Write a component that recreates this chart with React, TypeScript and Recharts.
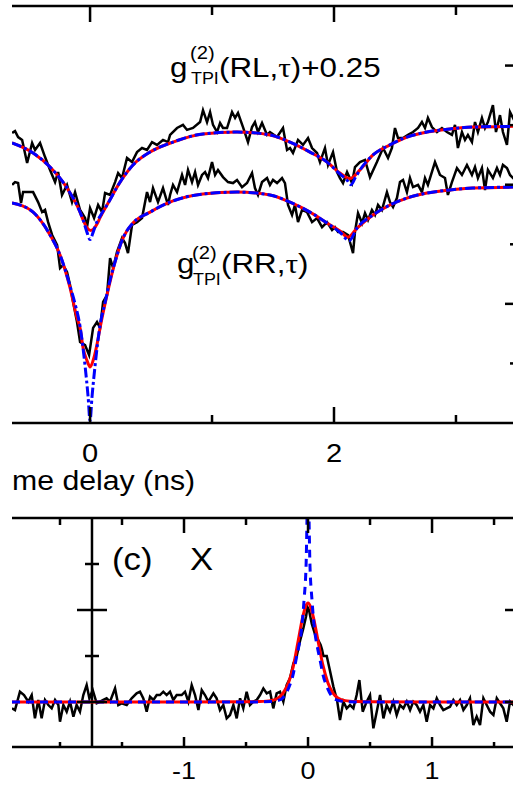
import React from "react";
import { LineChart, Line, XAxis, YAxis, ReferenceLine, ReferenceDot } from "recharts";

// upper panel: g2 vs time delay (ns), RL curve shifted by +0.25
const rlMeasured: [number, number][] = [
  [-0.639, 1.217], [-0.615, 1.225], [-0.59, 1.2], [-0.557, 1.188], [-0.516, 1.091], [-0.475, 1.175],
  [-0.451, 1.146], [-0.41, 1.175], [-0.369, 1.116], [-0.328, 1.062], [-0.287, 1.011], [-0.262, 1.053],
  [-0.23, 0.957], [-0.189, 0.999], [-0.148, 0.927], [-0.123, 0.969], [-0.082, 0.894], [-0.041, 0.86],
  [-0.025, 0.822], [0, 0.902], [0.033, 0.86], [0.066, 0.915], [0.098, 0.885], [0.123, 0.965],
  [0.164, 0.957], [0.205, 1.011], [0.23, 1.049], [0.262, 1.028], [0.303, 1.112], [0.344, 1.095],
  [0.385, 1.137], [0.426, 1.154], [0.467, 1.146], [0.508, 1.179], [0.549, 1.167], [0.598, 1.188],
  [0.639, 1.179], [0.656, 1.209], [0.713, 1.238], [0.762, 1.251], [0.795, 1.23], [0.844, 1.238],
  [0.902, 1.263], [0.926, 1.313], [0.959, 1.263], [0.984, 1.305], [1.008, 1.251], [1.041, 1.221],
  [1.066, 1.259], [1.09, 1.238], [1.123, 1.238], [1.164, 1.305], [1.189, 1.28], [1.213, 1.301],
  [1.254, 1.242], [1.295, 1.179], [1.328, 1.242], [1.352, 1.263], [1.377, 1.221], [1.41, 1.259],
  [1.451, 1.209], [1.475, 1.221], [1.533, 1.2], [1.582, 1.238], [1.615, 1.146], [1.639, 1.154],
  [1.664, 1.133], [1.705, 1.188], [1.746, 1.167], [1.787, 1.196], [1.82, 1.154], [1.861, 1.133],
  [1.885, 1.095], [1.926, 1.154], [1.951, 1.083], [1.992, 1.137], [2.025, 1.053], [2.049, 1.028],
  [2.074, 1.007], [2.107, 1.053], [2.148, 1.007], [2.172, 1.074], [2.213, 1.095], [2.254, 1.104],
  [2.295, 1.032], [2.352, 1.095], [2.402, 1.154], [2.443, 1.112], [2.475, 1.154], [2.5, 1.238],
  [2.525, 1.196], [2.566, 1.196], [2.607, 1.209], [2.648, 1.221], [2.689, 1.238], [2.721, 1.263],
  [2.746, 1.238], [2.77, 1.28], [2.803, 1.242], [2.844, 1.221], [2.885, 1.238], [2.926, 1.221],
  [2.967, 1.209], [2.992, 1.251], [3.016, 1.154], [3.049, 1.221], [3.074, 1.188], [3.098, 1.209],
  [3.131, 1.179], [3.156, 1.263], [3.18, 1.221], [3.213, 1.28], [3.238, 1.238], [3.262, 1.263],
  [3.303, 1.334], [3.328, 1.221], [3.361, 1.292], [3.385, 1.221], [3.418, 1.167], [3.443, 1.305],
  [3.484, 1.263],
];

const rlFitJitter: [number, number][] = [
  [-0.64, 1.175], [-0.467, 1.133], [-0.328, 1.074], [-0.189, 0.986], [-0.082, 0.885], [-0.057, 0.852],
  [-0.025, 0.82], [0.005, 0.808], [0.03, 0.815], [0.057, 0.835], [0.082, 0.862], [0.139, 0.915],
  [0.246, 1.011], [0.352, 1.083], [0.492, 1.137], [0.68, 1.179], [0.926, 1.213], [1.205, 1.221],
  [1.475, 1.209], [1.639, 1.179], [1.803, 1.137], [1.943, 1.095], [2.049, 1.049], [2.131, 1.026],
  [2.213, 1.062], [2.32, 1.125], [2.459, 1.167], [2.598, 1.2], [2.762, 1.221], [2.951, 1.234],
  [3.139, 1.242], [3.484, 1.245],
];

const rlFitIdeal: [number, number][] = [
  [-0.64, 1.175], [-0.467, 1.133], [-0.328, 1.074], [-0.189, 0.986], [-0.082, 0.885], [-0.057, 0.852],
  [-0.025, 0.8], [0, 0.77], [0.025, 0.8], [0.057, 0.845], [0.082, 0.868], [0.139, 0.915],
  [0.246, 1.011], [0.352, 1.083], [0.492, 1.137], [0.68, 1.179], [0.926, 1.213], [1.205, 1.221],
  [1.475, 1.209], [1.639, 1.179], [1.803, 1.137], [1.943, 1.095], [2.049, 1.045], [2.105, 1.02],
  [2.14, 1.0], [2.175, 1.03], [2.213, 1.062], [2.32, 1.125], [2.459, 1.167], [2.598, 1.2],
  [2.762, 1.221], [2.951, 1.234], [3.139, 1.242], [3.484, 1.245],
];

const rrMeasured: [number, number][] = [
  [-0.639, 0.999], [-0.615, 1.011], [-0.59, 1.007], [-0.566, 0.923], [-0.549, 0.969], [-0.516, 0.969],
  [-0.467, 0.969], [-0.426, 0.927], [-0.393, 0.885], [-0.369, 0.894], [-0.344, 0.843], [-0.311, 0.789],
  [-0.27, 0.747], [-0.246, 0.65], [-0.221, 0.663], [-0.189, 0.634], [-0.164, 0.579], [-0.139, 0.508],
  [-0.107, 0.424], [-0.082, 0.34], [-0.041, 0.327], [-0.008, 0.285], [0.025, 0.399], [0.057, 0.424],
  [0.082, 0.399], [0.107, 0.508], [0.139, 0.537], [0.164, 0.692], [0.189, 0.65], [0.221, 0.718],
  [0.262, 0.776], [0.287, 0.755], [0.311, 0.713], [0.344, 0.831], [0.385, 0.843], [0.426, 0.86],
  [0.467, 0.969], [0.492, 0.927], [0.516, 0.986], [0.557, 0.927], [0.598, 0.986], [0.639, 0.915],
  [0.656, 0.957], [0.68, 0.999], [0.713, 0.969], [0.754, 1.041], [0.779, 0.999], [0.803, 1.062],
  [0.836, 1.011], [0.861, 1.053], [0.885, 0.999], [0.918, 1.041], [0.943, 1.053], [0.967, 1.028],
  [1.0, 1.095], [1.025, 1.041], [1.049, 1.062], [1.09, 1.032], [1.131, 1.011], [1.172, 1.007],
  [1.205, 1.02], [1.246, 0.99], [1.287, 1.007], [1.328, 1.049], [1.352, 0.986], [1.377, 0.957],
  [1.41, 1.011], [1.451, 1.028], [1.475, 0.999], [1.5, 1.02], [1.533, 1.007], [1.574, 1.028],
  [1.598, 1.007], [1.623, 0.915], [1.656, 0.873], [1.68, 0.915], [1.705, 0.843], [1.738, 0.894],
  [1.779, 0.885], [1.82, 0.843], [1.861, 0.86], [1.902, 0.822], [1.943, 0.843], [1.984, 0.81],
  [2.008, 0.822], [2.033, 0.802], [2.074, 0.802], [2.115, 0.789], [2.156, 0.713], [2.172, 0.802],
  [2.197, 0.881], [2.23, 0.839], [2.254, 0.881], [2.279, 0.852], [2.311, 0.894], [2.336, 0.873],
  [2.361, 0.915], [2.393, 0.894], [2.434, 0.969], [2.459, 0.927], [2.484, 0.906], [2.516, 0.944],
  [2.541, 1.011], [2.566, 1.02], [2.598, 0.969], [2.623, 1.028], [2.648, 0.99], [2.689, 0.999],
  [2.721, 0.969], [2.746, 1.028], [2.77, 0.999], [2.828, 1.095], [2.869, 1.041], [2.91, 1.028],
  [2.934, 0.957], [2.967, 1.011], [3.008, 1.07], [3.049, 1.041], [3.09, 1.083], [3.131, 1.041],
  [3.156, 1.074], [3.18, 1.028], [3.213, 1.07], [3.238, 0.978], [3.262, 1.062], [3.303, 1.028],
  [3.336, 1.07], [3.361, 1.041], [3.385, 1.083], [3.418, 1.07], [3.443, 1.041], [3.484, 1.02],
];

const rrFitJitter: [number, number][] = [
  [-0.64, 0.923], [-0.467, 0.885], [-0.328, 0.789], [-0.246, 0.705], [-0.164, 0.567], [-0.107, 0.441],
  [-0.082, 0.399], [-0.057, 0.315], [-0.025, 0.262], [0, 0.235], [0.025, 0.262], [0.057, 0.33],
  [0.082, 0.399], [0.139, 0.537], [0.205, 0.676], [0.27, 0.776], [0.352, 0.839], [0.492, 0.885],
  [0.68, 0.932], [0.926, 0.961], [1.205, 0.969], [1.475, 0.957], [1.639, 0.927], [1.803, 0.885],
  [1.943, 0.839], [2.049, 0.806], [2.115, 0.78], [2.189, 0.818], [2.32, 0.873], [2.459, 0.915],
  [2.598, 0.944], [2.762, 0.965], [2.951, 0.978], [3.139, 0.986], [3.484, 0.99],
];

const rrFitIdeal: [number, number][] = [
  [-0.64, 0.923], [-0.467, 0.885], [-0.328, 0.789], [-0.246, 0.705], [-0.164, 0.575], [-0.123, 0.5],
  [-0.082, 0.405], [-0.041, 0.24], [-0.016, 0.11], [0, 0.01], [0.016, 0.11], [0.041, 0.24],
  [0.082, 0.41], [0.123, 0.505], [0.164, 0.6], [0.205, 0.676], [0.27, 0.776], [0.352, 0.839],
  [0.492, 0.885], [0.68, 0.932], [0.926, 0.961], [1.205, 0.969], [1.475, 0.957], [1.639, 0.927],
  [1.803, 0.885], [1.943, 0.839], [2.049, 0.8], [2.125, 0.765], [2.189, 0.818], [2.32, 0.873],
  [2.459, 0.915], [2.598, 0.944], [2.762, 0.965], [2.951, 0.978], [3.139, 0.986], [3.484, 0.99],
];

// lower panel (c): X
const xMeasured: [number, number][] = [
  [-2.387, -0.069], [-2.363, -0.087], [-2.323, 0.112], [-2.29, 0.076], [-2.255, 0.004], [-2.228, 0.076],
  [-2.202, -0.178], [-2.175, 0.022], [-2.148, -0.178], [-2.121, 0.022], [-2.094, -0.033], [-2.067, -0.069],
  [-2.04, 0.022], [-2.013, -0.033], [-2.0, -0.214], [-1.973, -0.033], [-1.946, -0.105], [-1.919, 0.004],
  [-1.892, -0.159], [-1.866, -0.033], [-1.839, -0.105], [-1.812, 0.076], [-1.785, 0.185], [-1.763, 0.04],
  [-1.736, 0.13], [-1.704, -0.014], [-1.677, 0.004], [-1.651, 0.022], [-1.624, 0.04], [-1.597, 0.004],
  [-1.556, 0.148], [-1.53, -0.033], [-1.503, -0.014], [-1.462, -0.033], [-1.422, 0.04], [-1.382, 0.094],
  [-1.355, 0.112], [-1.328, 0.04], [-1.301, -0.105], [-1.274, 0.058], [-1.247, 0.022], [-1.22, 0.076],
  [-1.194, 0.076], [-1.167, 0.112], [-1.14, 0.076], [-1.113, 0.112], [-1.086, 0.022], [-1.059, 0.076],
  [-1.019, 0.076], [-0.992, 0.112], [-0.965, 0.004], [-0.938, 0.185], [-0.911, 0.076], [-0.884, -0.087],
  [-0.857, 0.13], [-0.831, 0.076], [-0.804, 0.004], [-0.763, 0.094], [-0.737, 0.04], [-0.71, -0.087],
  [-0.683, -0.033], [-0.656, -0.178], [-0.629, -0.141], [-0.602, -0.033], [-0.575, -0.178], [-0.548, 0.04],
  [-0.522, -0.069], [-0.495, 0.112], [-0.468, -0.033], [-0.441, 0.004], [-0.414, 0.022], [-0.387, 0.076],
  [-0.36, 0.148], [-0.333, 0.094], [-0.306, 0.112], [-0.28, -0.069], [-0.253, 0.094], [-0.226, 0.112],
  [-0.199, 0.004], [-0.172, 0.185], [-0.145, 0.26], [-0.118, 0.42], [-0.091, 0.5], [-0.065, 0.66],
  [-0.038, 0.8], [-0.016, 0.93], [-0.004, 1.03], [0.008, 1.0], [0.03, 0.85], [0.056, 0.74],
  [0.083, 0.67], [0.102, 0.62], [0.113, 0.57], [0.124, 0.5], [0.151, 0.5], [0.177, 0.34],
  [0.204, 0.17], [0.234, 0.02], [0.258, -0.196], [0.285, 0.004], [0.312, -0.069], [0.339, -0.033],
  [0.366, -0.069], [0.392, 0.076], [0.414, 0.239], [0.441, -0.105], [0.473, 0.004], [0.5, 0.076],
  [0.527, -0.286], [0.554, -0.105], [0.581, 0.076], [0.608, -0.178], [0.634, -0.033], [0.661, -0.105],
  [0.688, 0.004], [0.715, -0.141], [0.742, -0.033], [0.769, -0.069], [0.796, 0.004], [0.823, -0.087],
  [0.849, 0.004], [0.876, -0.033], [0.903, -0.105], [0.93, -0.033], [0.957, -0.214], [0.984, -0.033],
  [1.011, -0.069], [1.038, 0.04], [1.065, -0.033], [1.091, -0.087], [1.118, -0.069], [1.145, -0.051],
  [1.172, 0.022], [1.199, -0.033], [1.226, 0.022], [1.253, -0.087], [1.28, -0.033], [1.306, 0.04],
  [1.333, -0.25], [1.36, -0.159], [1.387, -0.25], [1.414, 0.04], [1.441, -0.033], [1.468, -0.105],
  [1.495, -0.141], [1.522, 0.04], [1.548, -0.014], [1.575, -0.069], [1.602, -0.214], [1.629, 0.004],
  [1.669, -0.05],
];

const xFitJitter: [number, number][] = [
  [-2.387, 0], [-1.0, 0], [-0.5, 0.002], [-0.4, 0.005], [-0.3, 0.015], [-0.24, 0.045], [-0.2, 0.1],
  [-0.16, 0.2], [-0.12, 0.38], [-0.08, 0.66], [-0.04, 0.94], [0, 1.076], [0.04, 0.94], [0.08, 0.67],
  [0.12, 0.4], [0.16, 0.21], [0.2, 0.1], [0.24, 0.045], [0.3, 0.015], [0.4, 0.005], [0.5, 0.002],
  [1.0, 0], [1.669, 0],
];

const xFitIdeal: [number, number][] = [
  [-2.387, 0], [-0.5, 0], [-0.3, 0.005], [-0.234, 0.02], [-0.2, 0.05], [-0.153, 0.163], [-0.12, 0.3],
  [-0.097, 0.457], [-0.075, 0.6], [-0.056, 0.75], [-0.032, 1.11], [-0.016, 1.47], [0, 2.4],
  [0.016, 1.47], [0.032, 1.11], [0.056, 0.75], [0.075, 0.6], [0.097, 0.457], [0.12, 0.3],
  [0.153, 0.163], [0.2, 0.05], [0.234, 0.02], [0.3, 0.005], [0.5, 0], [1.669, 0],
];

const topXTicks = [0, 1, 2, 3];
const topXMajor = [0, 2];
const topYTicks = [0.25, 0.5, 0.75, 1, 1.25, 1.5];
const topYMajor = [0.5, 1, 1.5];
const botXTicks = [-2, -1.5, -1, -0.5, 0, 0.5, 1, 1.5];
const botXMajor = [-1, 0, 1];
const botYTicks = [0, 1];
const innerAxisAt = -1.742;
const innerTicks = [0, 0.5, 1, 1.5];
const innerMajor = [0, 1];

const toRows = (pts: [number, number][]) => pts.map(([t, v]) => ({ t, v }));

const FONT = "'Liberation Sans', Arial, sans-serif";
const XS = 1.12; // the scanned figure is a bit wider than tall
const RED = "#ff0000";
const BLUE = "#0000ff";

const isIn = (list: number[], v: number) => list.some((m) => Math.abs(m - v) < 1e-6);

function xTick(side: "top" | "bottom", major: number[], majLen: number, minLen: number, fontSize = 0, labelDy = 0) {
  return (p: any) => {
    const v = p.payload.value;
    const big = isIn(major, v);
    const len = big ? majLen : minLen;
    const dir = side === "top" ? 1 : -1;
    return (
      <g>
        <line x1={p.x} x2={p.x} y1={p.y} y2={p.y + dir * len} stroke="#000" strokeWidth={2.5} />
        {side === "bottom" && big && fontSize > 0 && (
          <text
            transform={`translate(${p.x},${p.y + labelDy}) scale(${XS},1)`}
            textAnchor="middle"
            fontSize={fontSize}
            fontFamily={FONT}
            fill="#000"
          >
            {String(v)}
          </text>
        )}
      </g>
    );
  };
}

function yTick(major: number[], majLen: number, minLen: number) {
  return (p: any) => {
    const len = isIn(major, p.payload.value) ? majLen : minLen;
    return <line x1={p.x - len} x2={p.x} y1={p.y} y2={p.y} stroke="#000" strokeWidth={2.5} />;
  };
}

function Txt({ x, y, size, children }: { x: number; y: number; size: number; children: React.ReactNode }) {
  return (
    <text transform={`translate(${x},${y}) scale(${XS},1)`} fontSize={size} fontFamily={FONT} fill="#000">
      {children}
    </text>
  );
}

const axisStyle = { stroke: "#000", strokeWidth: 2.5 };

export default function App() {
  return (
    <div style={{ position: "relative", width: 513, height: 786, overflow: "hidden", background: "#fff" }}>
      <style>{"body{margin:0}"}</style>

      <div style={{ position: "absolute", left: 0, top: 0 }}>
        <LineChart width={530} height={470} margin={{ top: 5, right: 14, bottom: 46, left: 12 }}>
          <XAxis
            dataKey="t"
            type="number"
            domain={[-0.64, 3.484]}
            ticks={topXTicks}
            interval={0}
            height={1}
            axisLine={axisStyle}
            tickLine={false}
            tickSize={0}
            tickMargin={0}
            tick={xTick("bottom", topXMajor, 16, 8, 26, 39)}
            allowDataOverflow
          />
          <XAxis
            xAxisId="top"
            orientation="top"
            dataKey="t"
            type="number"
            domain={[-0.64, 3.484]}
            ticks={topXTicks}
            interval={0}
            height={1}
            axisLine={axisStyle}
            tickLine={false}
            tickSize={0}
            tickMargin={0}
            tick={xTick("top", topXMajor, 16, 9)}
            allowDataOverflow
          />
          <YAxis
            orientation="right"
            type="number"
            domain={[0, 1.75]}
            ticks={topYTicks}
            interval={0}
            width={1}
            axisLine={false}
            tickLine={false}
            tickSize={0}
            tickMargin={0}
            tick={yTick(topYMajor, 10, 5)}
            allowDataOverflow
          />
          <Line data={toRows(rlMeasured)} dataKey="v" type="linear" stroke="#000" strokeWidth={2.5} dot={false} isAnimationActive={false} />
          <Line data={toRows(rrMeasured)} dataKey="v" type="linear" stroke="#000" strokeWidth={2.5} dot={false} isAnimationActive={false} />
          <Line data={toRows(rlFitJitter)} dataKey="v" type="monotone" stroke={RED} strokeWidth={3} dot={false} isAnimationActive={false} />
          <Line data={toRows(rrFitJitter)} dataKey="v" type="monotone" stroke={RED} strokeWidth={3} dot={false} isAnimationActive={false} />
          <Line data={toRows(rlFitIdeal)} dataKey="v" type="monotone" stroke={BLUE} strokeWidth={3} strokeDasharray="10 3 3 3" dot={false} isAnimationActive={false} />
          <Line data={toRows(rrFitIdeal)} dataKey="v" type="monotone" stroke={BLUE} strokeWidth={3} strokeDasharray="10 3 3 3" dot={false} isAnimationActive={false} />
        </LineChart>
      </div>

      <div style={{ position: "absolute", left: 0, top: 500 }}>
        <LineChart width={530} height={286} margin={{ top: 17, right: 14, bottom: 38, left: 12 }}>
          <XAxis
            dataKey="t"
            type="number"
            domain={[-2.387, 1.669]}
            ticks={botXTicks}
            interval={0}
            height={1}
            axisLine={axisStyle}
            tickLine={false}
            tickSize={0}
            tickMargin={0}
            tick={xTick("bottom", botXMajor, 10, 5, 24, 32)}
            allowDataOverflow
          />
          <XAxis
            xAxisId="top"
            orientation="top"
            dataKey="t"
            type="number"
            domain={[-2.387, 1.669]}
            ticks={botXTicks}
            interval={0}
            height={1}
            axisLine={axisStyle}
            tickLine={false}
            tickSize={0}
            tickMargin={0}
            tick={xTick("top", botXMajor, 15, 7)}
            allowDataOverflow
          />
          <YAxis
            orientation="right"
            type="number"
            domain={[-0.489, 2.0]}
            ticks={botYTicks}
            interval={0}
            width={1}
            axisLine={false}
            tickLine={false}
            tickSize={0}
            tickMargin={0}
            tick={yTick([1], 10, 10)}
            allowDataOverflow
          />
          <ReferenceLine x={innerAxisAt} stroke="#000" strokeWidth={2.5} />
          {innerTicks.map((v) => (
            <ReferenceDot
              key={v}
              x={innerAxisAt}
              y={v}
              r={0}
              shape={(p: any) => {
                const half = isIn(innerMajor, v) ? 15 : 7;
                return <line x1={p.cx - half} x2={p.cx + half} y1={p.cy} y2={p.cy} stroke="#000" strokeWidth={2.5} />;
              }}
            />
          ))}
          <Line data={toRows(xMeasured)} dataKey="v" type="linear" stroke="#000" strokeWidth={2.5} dot={false} isAnimationActive={false} />
          <Line data={toRows(xFitJitter)} dataKey="v" type="monotone" stroke={RED} strokeWidth={3} dot={false} isAnimationActive={false} />
          <Line data={toRows(xFitIdeal)} dataKey="v" type="monotone" stroke={BLUE} strokeWidth={3} strokeDasharray="8 6" dot={false} isAnimationActive={false} />
        </LineChart>
      </div>

      <svg width={513} height={786} style={{ position: "absolute", left: 0, top: 0, pointerEvents: "none" }}>
        <Txt x={170} y={77} size={28}>g</Txt>
        <Txt x={190} y={59} size={18}>(2)</Txt>
        <Txt x={191} y={84} size={16}>TPI</Txt>
        <Txt x={219} y={77} size={28}>
          (RL,<tspan fontFamily="'Liberation Serif', serif">τ</tspan>)+0.25
        </Txt>

        <Txt x={177} y={273} size={28}>g</Txt>
        <Txt x={192} y={259} size={18}>(2)</Txt>
        <Txt x={193} y={285} size={16}>TPI</Txt>
        <Txt x={221} y={273} size={28}>
          (RR,<tspan fontFamily="'Liberation Serif', serif">τ</tspan>)
        </Txt>

        <Txt x={12} y={490} size={27}>me delay (ns)</Txt>

        <Txt x={112} y={570} size={31}>(c)</Txt>
        <Txt x={190} y={570} size={31}>X</Txt>
      </svg>
    </div>
  );
}
